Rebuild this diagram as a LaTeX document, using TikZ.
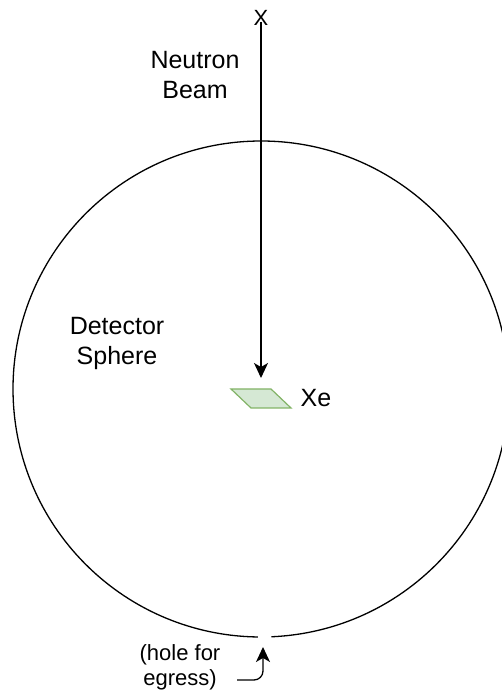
\documentclass[tikz,border=0pt]{standalone}
\usepackage{fontspec}
\setmainfont{Liberation Sans}
\usepackage{tikz}
\usetikzlibrary{arrows.meta}

\definecolor{xefill}{HTML}{D5E8D4}
\definecolor{xeline}{HTML}{82B366}

\begin{document}
\begin{tikzpicture}[x=1pt,y=1pt,>={Stealth[length=15pt,width=14pt,inset=4pt]},
    line width=1.3pt,
    txt/.style={inner sep=0pt,align=center,font=\fontsize{25}{30}\selectfont},
    smalltxt/.style={inner sep=0pt,align=center,font=\fontsize{22}{25}\selectfont}]
        \useasboundingbox (0,0) rectangle (502,697);
        % sphere, with the hole at the bottom
        \draw (261,308) ++(-87.6:248) arc[start angle=-87.6,end angle=269.3,radius=248];

        % xenon target
        \draw[xeline,fill=xefill,line width=1.2pt] (231,308) -- (271,308) -- (291,289) -- (251,289) -- cycle;
        \coordinate (xetop) at (261,308);

        \node[inner sep=0pt,font=\fontsize{22}{22}\selectfont] (x) at (261,679) {X};
        \node[txt]      (beam)   at (195,622)  {Neutron\\Beam};
        \node[txt]      (sphere) at (117,354)  {Detector\\Sphere};
        \node[txt,anchor=west] (xe) at (300,299) {Xe};
        \node[smalltxt] (hole)   at (180,30)   {(hole for\\egress)};
        \coordinate (holetip) at (263,50);

        \path[->]
                 (x.center) edge[shorten <=4pt,shorten >=11pt] (xetop)
                 ;
        \draw[->,rounded corners=9pt] (237,17) -| (holetip);
\end{tikzpicture}
\end{document}
